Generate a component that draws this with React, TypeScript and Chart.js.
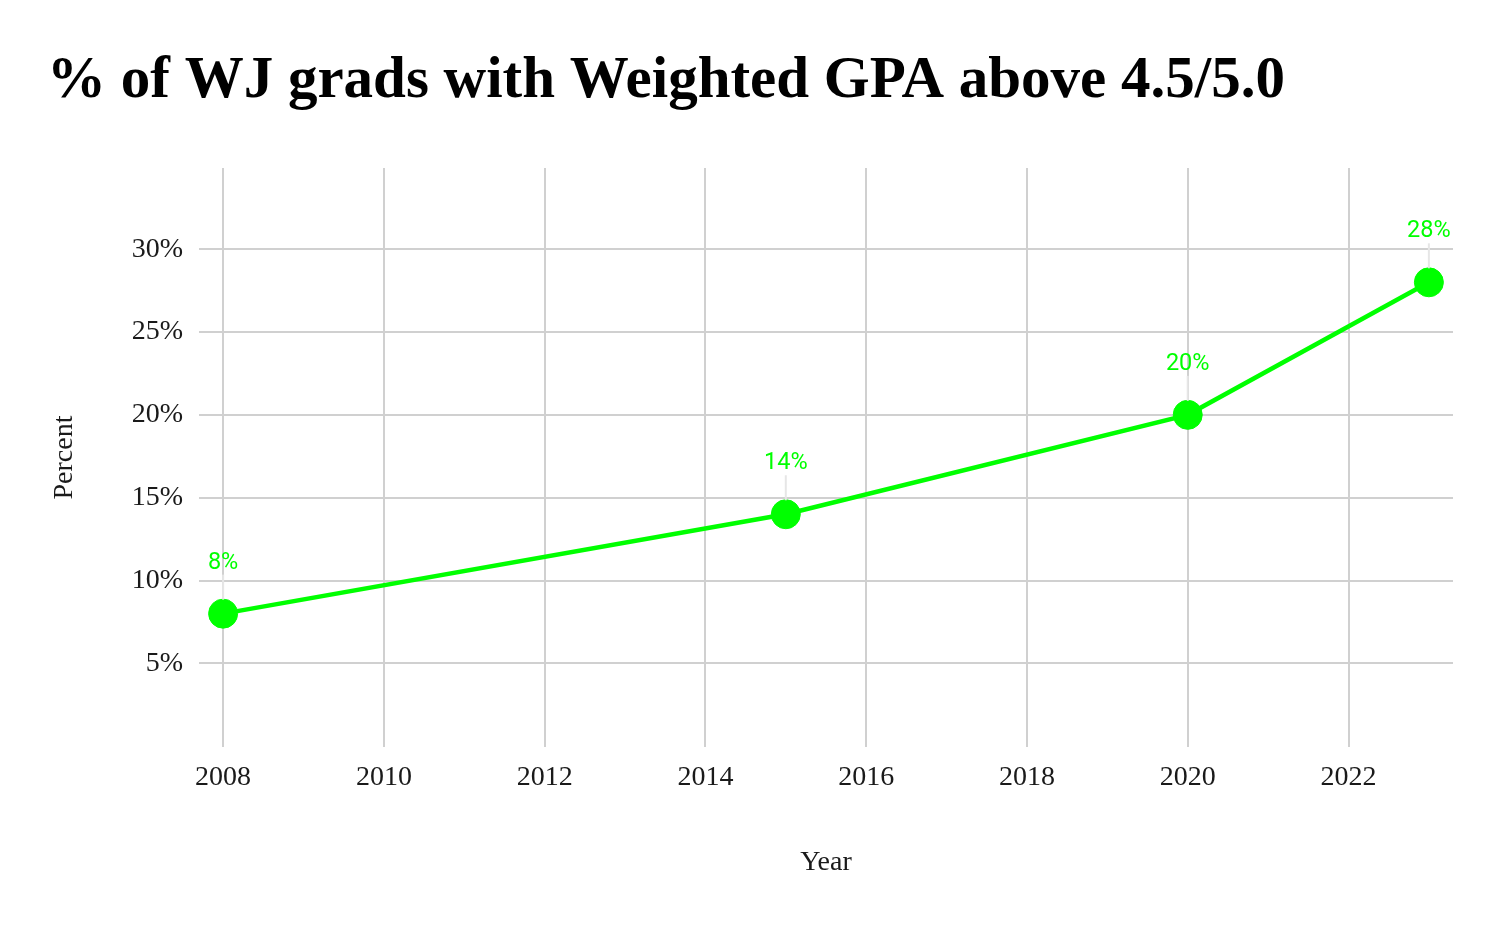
import React, { useEffect, useRef } from "react";
import { Chart, registerables } from "chart.js";

Chart.register(...registerables);

const years = [2008, 2015, 2020, 2023];
const percents = [8, 14, 20, 28];
const pointLabels = ["8%", "14%", "20%", "28%"];
const xTickValues = [2008, 2010, 2012, 2014, 2016, 2018, 2020, 2022];
const yTickValues = [5, 10, 15, 20, 25, 30];

const GREEN = "#00ff00";
const SERIF = "'Liberation Serif', 'DejaVu Serif', serif";

const labelPlugin = {
  id: "pointLabels",
  afterDatasetsDraw(chart: any) {
    const meta = chart.getDatasetMeta(0);
    const ctx = chart.ctx;
    ctx.save();
    meta.data.forEach((pt: any, i: number) => {
      const x = pt.x;
      const y = pt.y;
      const baseY = y - 45;
      ctx.strokeStyle = "#e6e6e6";
      ctx.lineWidth = 2;
      ctx.beginPath();
      ctx.moveTo(x, baseY + 6);
      ctx.lineTo(x, y - 14);
      ctx.stroke();
      ctx.fillStyle = GREEN;
      ctx.font = "23.5px Roboto";
      ctx.textAlign = "center";
      ctx.textBaseline = "alphabetic";
      ctx.fillText(pointLabels[i], x, baseY);
    });
    ctx.restore();
  },
};

export default function App() {
  const ref = useRef<HTMLCanvasElement | null>(null);

  useEffect(() => {
    if (!ref.current) return;
    const chart = new Chart(ref.current, {
      type: "line",
      data: {
        datasets: [
          {
            data: years.map((y, i) => ({ x: y, y: percents[i] })),
            borderColor: GREEN,
            backgroundColor: GREEN,
            borderWidth: 4.5,
            pointRadius: 14.5,
            pointBorderWidth: 1,
            pointBackgroundColor: GREEN,
            pointBorderColor: GREEN,
            tension: 0,
          },
        ],
      },
      options: {
        animation: false,
        responsive: true,
        maintainAspectRatio: false,
        layout: { padding: { left: 47, right: 47, top: 0, bottom: 0 } },
        plugins: {
          legend: { display: false },
          tooltip: { enabled: false },
          title: {
            display: true,
            text: "% of WJ grads with Weighted GPA above 4.5/5.0",
            align: "start",
            color: "#000",
            font: { family: SERIF, size: 59, weight: "bold", lineHeight: 1.2 },
            padding: { top: 46, bottom: 51.2 },
          },
        },
        scales: {
          x: {
            type: "linear",
            min: 2007.7,
            max: 2023.3,
            afterBuildTicks: (s: any) => {
              s.ticks = xTickValues.map((v) => ({ value: v }));
            },
            afterFit: (s: any) => {
              s.height = 181;
            },
            ticks: {
              callback: (v: any) => String(v),
              color: "#1a1a1a",
              font: { family: SERIF, size: 28 },
              padding: 14,
              maxRotation: 0,
            },
            grid: { color: "#d0d0d0", lineWidth: 2, drawTicks: false },
            border: { display: false },
            title: {
              display: true,
              text: "Year",
              color: "#1a1a1a",
              font: { family: SERIF, size: 28, lineHeight: 1.2 },
              padding: { top: 0, bottom: 49 },
            },
          },
          y: {
            type: "linear",
            min: -0.05,
            max: 34.9,
            afterBuildTicks: (s: any) => {
              s.ticks = yTickValues.map((v) => ({ value: v }));
            },
            afterFit: (s: any) => {
              s.width = 152;
            },
            ticks: {
              callback: (v: any) => v + "%",
              color: "#1a1a1a",
              font: { family: SERIF, size: 28 },
              padding: 16,
            },
            grid: { color: "#d0d0d0", lineWidth: 2, drawTicks: false },
            border: { display: false },
            title: {
              display: true,
              text: "Percent",
              color: "#1a1a1a",
              font: { family: SERIF, size: 28, lineHeight: 1.2 },
              padding: { top: 1, bottom: 0 },
            },
          },
        },
      },
      plugins: [labelPlugin],
    } as any);
    return () => chart.destroy();
  }, []);

  return (
    <div style={{ position: "absolute", left: 0, top: 0, width: 1500, height: 928, background: "#fff" }}>
      <canvas ref={ref} />
    </div>
  );
}
